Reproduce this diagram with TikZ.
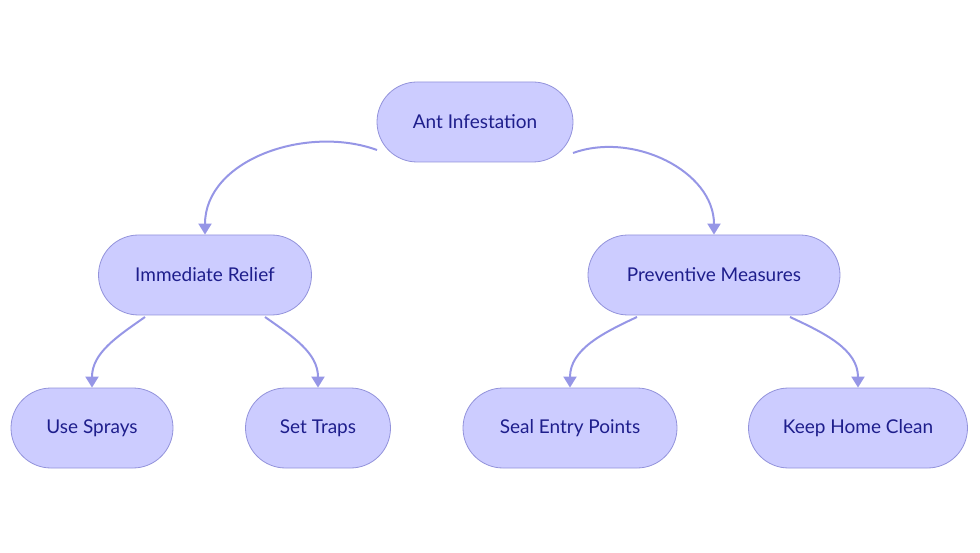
\documentclass[tikz,border=0pt]{standalone}
\usepackage{fontspec}
\setmainfont{Lato}
\usetikzlibrary{shapes.misc,calc,arrows.meta}
\definecolor{nfill}{RGB}{204,204,255}
\definecolor{nborder}{RGB}{147,147,219}
\definecolor{ntext}{RGB}{30,30,140}
\definecolor{edge}{RGB}{150,150,230}
\begin{document}
\begin{tikzpicture}[x=1pt,y=-1pt,
  box/.style={rounded rectangle, draw=nborder, fill=nfill, line width=0.8pt,
    minimum height=80pt, inner sep=0pt, text=ntext, font=\fontsize{19}{22}\selectfont},
  link/.style={draw=edge, line width=2pt, -{Triangle[length=11pt,width=13pt]}}]
\useasboundingbox (0,0) rectangle (980,553);
\node[box, minimum width=196pt] (root) at (475,122) {Ant Infestation};
\node[box, minimum width=213pt] (ir) at (205,275) {Immediate Relief};
\node[box, minimum width=252pt] (pm) at (714,275) {Preventive Measures};
\node[box, minimum width=162pt] (us) at (92,428) {Use Sprays};
\node[box, minimum width=145pt] (st) at (318,428) {Set Traps};
\node[box, minimum width=214pt] (se) at (570,428) {Seal Entry Points};
\node[box, minimum width=219pt] (kh) at (858,428) {Keep Home Clean};
\draw[link] ($(root.center)+(-98,28)$) to[out=160,in=90] (ir.north);
\draw[link] ($(root.center)+(98,31)$) to[out=20,in=90] (pm.north);
\draw[link] ($(ir.center)+(-60,42)$) to[out=215,in=90] (us.north);
\draw[link] ($(ir.center)+(60,42)$) to[out=-35,in=90] (st.north);
\draw[link] ($(pm.center)+(-77,42)$) to[out=205,in=90] (se.north);
\draw[link] ($(pm.center)+(76,42)$) to[out=-25,in=90] (kh.north);
\end{tikzpicture}
\end{document}
